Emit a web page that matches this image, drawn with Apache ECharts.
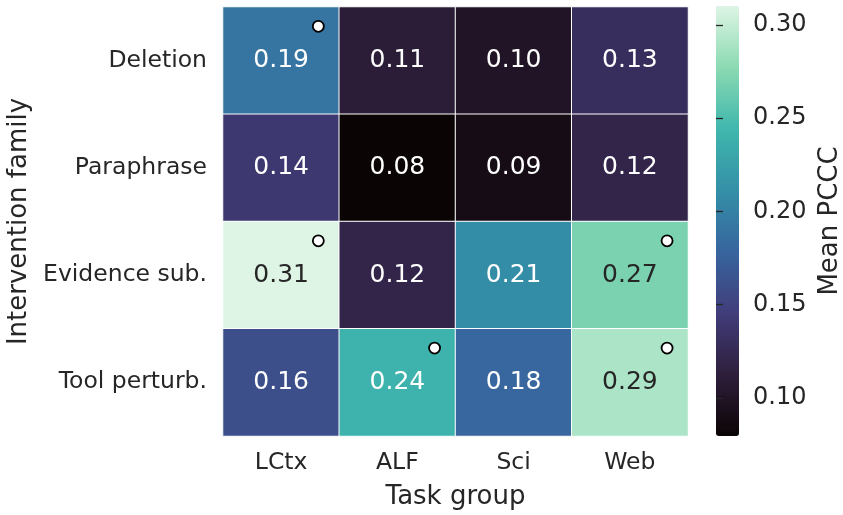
<!DOCTYPE html>
<html><head><meta charset="utf-8">
<script src="https://cdn.jsdelivr.net/npm/echarts@6/dist/echarts.min.js"></script>
<style>html,body{margin:0;padding:0;background:#fff}#c{width:843px;height:515px}</style>
</head><body><div id="c"></div>
<script>
var taskGroups = ['LCtx', 'ALF', 'Sci', 'Web'];
var families = ['Deletion', 'Paraphrase', 'Evidence sub.', 'Tool perturb.'];
var rowDeletion   = [0.19, 0.11, 0.10, 0.13];
var rowParaphrase = [0.14, 0.0796, 0.09, 0.12];
var rowEvidence   = [0.3102, 0.12, 0.21, 0.27];
var rowTool       = [0.16, 0.24, 0.18, 0.29];
var markedCells = [[0, 0], [0, 2], [3, 2], [1, 3], [3, 3]]; // [col, row]
var cbarTicks = [0.10, 0.15, 0.20, 0.25, 0.30];

var rows = [rowDeletion, rowParaphrase, rowEvidence, rowTool];
var vmin = Infinity, vmax = -Infinity;
rows.forEach(function (r) { r.forEach(function (v) { vmin = Math.min(vmin, v); vmax = Math.max(vmax, v); }); });

var heat = [];
rows.forEach(function (r, ri) {
  r.forEach(function (v, ci) {
    var t = (v - vmin) / (vmax - vmin);
    heat.push({ value: [ci, ri, v], label: { color: t > 0.75 ? '#262626' : '#ffffff' } });
  });
});
var markers = markedCells.map(function (m) { return [m[0] + 0.82, m[1] + 0.18]; });

var FONT = 'DejaVu Sans';
var TXT = '#262626';
var chart = echarts.init(document.getElementById('c'), null, { renderer: 'canvas' });
chart.setOption({
  backgroundColor: '#ffffff',
  animation: false,
  textStyle: { fontFamily: FONT, color: TXT },
  grid: [
    { left: 223, top: 7, width: 465, height: 429, outerBoundsMode: 'none', containLabel: false },
    { left: 223, top: 7, width: 465, height: 429, outerBoundsMode: 'none', containLabel: false },
    { left: 716, top: 6, width: 23, height: 430, outerBoundsMode: 'none', containLabel: false }
  ],
  xAxis: [
    { gridIndex: 0, type: 'category', data: taskGroups, axisLine: { show: false }, axisTick: { show: false },
      splitLine: { show: false },
      axisLabel: { fontFamily: FONT, fontSize: 23.5, color: TXT, margin: 15 },
      name: 'Task group', nameLocation: 'middle', nameGap: 48,
      nameTextStyle: { fontFamily: FONT, fontSize: 26, color: TXT } },
    { gridIndex: 1, type: 'value', min: 0, max: 4, show: false },
    { gridIndex: 2, type: 'value', show: false }
  ],
  yAxis: [
    { gridIndex: 0, type: 'category', data: families, inverse: true, axisLine: { show: false }, axisTick: { show: false },
      splitLine: { show: false },
      axisLabel: { fontFamily: FONT, fontSize: 23.5, color: TXT, margin: 16 },
      name: 'Intervention family', nameLocation: 'middle', nameGap: 188, nameRotate: 90,
      nameTextStyle: { fontFamily: FONT, fontSize: 26, color: TXT } },
    { gridIndex: 1, type: 'value', min: 0, max: 4, inverse: true, show: false },
    { gridIndex: 2, type: 'value', min: vmin, max: vmax, position: 'right', z: 10,
      axisLine: { show: true, lineStyle: { color: 'rgba(0,0,0,0)', width: 0 } }, splitLine: { show: false },
      axisTick: { show: true, inside: false, length: 7, lineStyle: { color: TXT, width: 1.3 }, customValues: cbarTicks },
      axisLabel: { fontFamily: FONT, fontSize: 24, color: TXT, margin: 14, customValues: cbarTicks,
        formatter: function (v) { return v.toFixed(2); } },
      name: 'Mean PCCC', nameLocation: 'middle', nameGap: 78, nameRotate: 90,
      nameTextStyle: { fontFamily: FONT, fontSize: 26, color: TXT } }
  ],
  visualMap: {
    type: 'continuous', min: vmin, max: vmax, seriesIndex: 0, calculable: false,
    orient: 'vertical', left: 716, top: 6, itemWidth: 23, itemHeight: 430, padding: 0,
    text: null, showLabel: false, hoverLink: false, z: 1,
    inRange: { color: ['#0B0405', '#2E1E3B', '#413D7B', '#37659E', '#348FA7', '#40B7AD', '#8BDAB2', '#DEF5E5'] }
  },
  series: [
    { type: 'heatmap', xAxisIndex: 0, yAxisIndex: 0, data: heat,
      itemStyle: { borderColor: '#ffffff', borderWidth: 1 },
      label: { show: true, fontFamily: FONT, fontSize: 25,
        formatter: function (p) { return p.value[2].toFixed(2); } } },
    { type: 'scatter', xAxisIndex: 1, yAxisIndex: 1, data: markers, symbol: 'circle', symbolSize: 11,
      itemStyle: { color: '#ffffff', borderColor: '#000000', borderWidth: 1.8, opacity: 1 }, z: 5 }
  ]
});
</script></body></html>
